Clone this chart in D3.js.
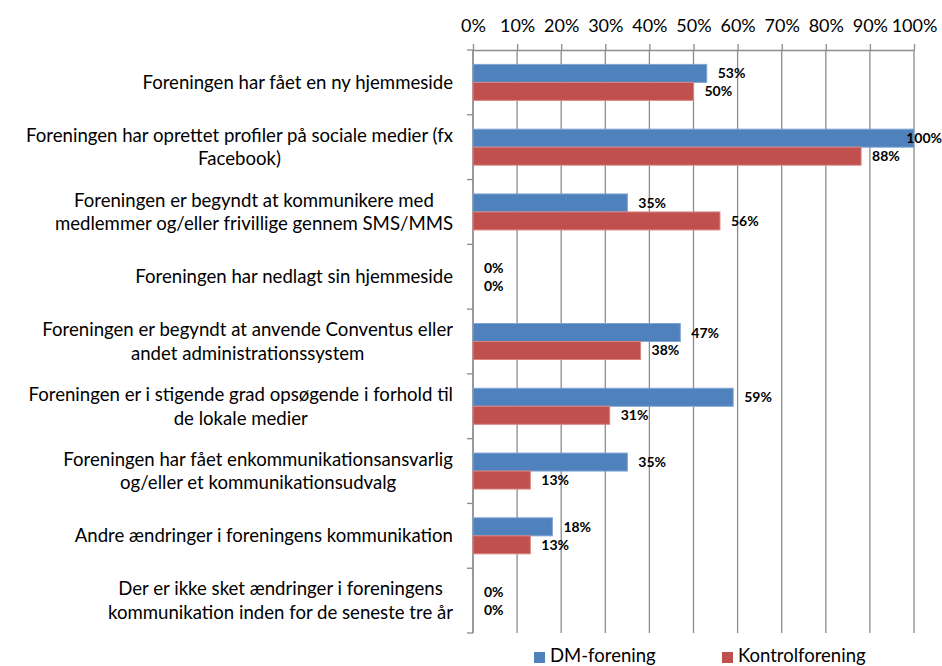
<!DOCTYPE html>
<html>
<head>
<meta charset="utf-8">
<script src="https://cdn.jsdelivr.net/npm/d3@7"></script>
<style>
  html, body { margin: 0; padding: 0; background: #fff; }
  svg { display: block; }
  text { font-family: Lato, "Open Sans", sans-serif; fill: #000; }
</style>
</head>
<body>
<svg id="chart" width="942" height="666"></svg>
<script>
// ---------- data ----------
const categories = [
  "Foreningen har fået en ny hjemmeside",
  "Foreningen har oprettet profiler på sociale medier (fx\nFacebook)",
  "Foreningen er begyndt at kommunikere med\nmedlemmer og/eller frivillige gennem SMS/MMS",
  "Foreningen har nedlagt sin hjemmeside",
  "Foreningen er begyndt at anvende Conventus eller\nandet administrationssystem",
  "Foreningen er i stigende grad opsøgende i forhold til\nde lokale medier",
  "Foreningen har fået enkommunikationsansvarlig\nog/eller et kommunikationsudvalg",
  "Andre ændringer i foreningens kommunikation",
  "Der er ikke sket ændringer i foreningens\nkommunikation inden for de seneste tre år"
];
const seriesNames = ["DM-forening", "Kontrolforening"];
const dmValues = [53, 100, 35, 0, 47, 59, 35, 18, 0];
const kontrolValues = [50, 88, 56, 0, 38, 31, 13, 13, 0];
const tickValues = [0, 10, 20, 30, 40, 50, 60, 70, 80, 90, 100];
const seriesColors = ["#4F81BD", "#C0504D"];
const seriesStroke = ["#7EA3D3", "#D98583"];

// ---------- layout ----------
const W = 942, H = 666;
const plot = { left: 473, right: 914, top: 50, bottom: 633 };
const svg = d3.select("#chart");

const x = d3.scaleLinear().domain([0, 100]).range([plot.left, plot.right]);
const y0 = d3.scaleBand().domain(d3.range(categories.length)).range([plot.top, plot.bottom]).padding(0);
const y1 = d3.scaleBand().domain(seriesNames).range([0, y0.bandwidth()]).paddingInner(0).paddingOuter(0.8);

// gridlines
svg.append("g")
  .selectAll("line")
  .data(tickValues)
  .join("line")
  .attr("x1", d => x(d)).attr("x2", d => x(d))
  .attr("y1", plot.top).attr("y2", plot.bottom)
  .attr("stroke", "#8C8C8C").attr("stroke-width", 1.3);

// top axis
const topAxis = svg.append("g")
  .attr("transform", `translate(0,${plot.top})`)
  .call(d3.axisTop(x).tickValues(tickValues).tickFormat(d => d + "%").tickSize(6).tickPadding(12).tickSizeOuter(0));
topAxis.select(".domain").attr("stroke", "#8C8C8C").attr("stroke-width", 1.3);
topAxis.selectAll(".tick line").attr("stroke", "#8C8C8C").attr("stroke-width", 1.3);
topAxis.selectAll(".tick text").attr("font-size", 18).attr("font-family", "Lato, sans-serif").attr("fill", "#000");

// left axis line with ticks at band boundaries
const boundaries = d3.range(categories.length + 1).map(i => plot.top + i * y0.step());
svg.append("line")
  .attr("x1", plot.left).attr("x2", plot.left)
  .attr("y1", plot.top).attr("y2", plot.bottom)
  .attr("stroke", "#8C8C8C").attr("stroke-width", 1.3);
svg.append("g").selectAll("line").data(boundaries).join("line")
  .attr("x1", plot.left - 6).attr("x2", plot.left)
  .attr("y1", d => d).attr("y2", d => d)
  .attr("stroke", "#8C8C8C").attr("stroke-width", 1.3);

// bars
const rows = categories.map((c, i) => ({ i, values: [dmValues[i], kontrolValues[i]] }));
const groups = svg.append("g").selectAll("g").data(rows).join("g")
  .attr("transform", d => `translate(0,${y0(d.i)})`);

groups.selectAll("rect")
  .data(d => d.values.map((v, s) => ({ v, s })))
  .join("rect")
  .attr("x", x(0))
  .attr("y", d => y1(seriesNames[d.s]))
  .attr("width", d => x(d.v) - x(0))
  .attr("height", y1.bandwidth())
  .attr("fill", d => seriesColors[d.s])
  .attr("stroke", d => d.v > 0 ? seriesStroke[d.s] : "none")
  .attr("stroke-width", 1);

// data labels
groups.selectAll("text.val")
  .data(d => d.values.map((v, s) => ({ v, s })))
  .join("text")
  .attr("class", "val")
  .attr("font-size", 14)
  .attr("font-weight", "bold")
  .attr("y", d => y1(seriesNames[d.s]) + y1.bandwidth() / 2 + 5)
  .text(d => d.v + "%")
  .each(function(d) {
    const w = this.getComputedTextLength();
    const px = Math.min(x(d.v) + 11, W - w);
    d3.select(this).attr("x", px);
  });

// category labels (multi-line, centered block, right-aligned to axis)
const labelRight = 453;
const lineH = 23.5;
svg.append("g").selectAll("text.cat").data(categories).join("text")
  .attr("class", "cat")
  .attr("font-size", 18.6)
  .attr("text-anchor", "middle")
  .each(function(c, i) {
    const lines = c.split("\n");
    const t = d3.select(this);
    const cy = y0(i) + y0.bandwidth() / 2;
    const firstBase = cy - (lines.length - 1) * lineH / 2 + 6.5;
    lines.forEach((ln, k) => {
      t.append("tspan").attr("y", firstBase + k * lineH).text(ln);
    });
    let maxW = 0;
    t.selectAll("tspan").each(function() { maxW = Math.max(maxW, this.getComputedTextLength()); });
    t.selectAll("tspan").attr("x", labelRight - maxW / 2);
  });

// legend
const legendX = [534, 722];
const legend = svg.append("g").selectAll("g").data(seriesNames).join("g")
  .attr("transform", (d, i) => `translate(${legendX[i]},652)`);
legend.append("rect").attr("width", 11).attr("height", 11).attr("fill", (d, i) => seriesColors[i]);
legend.append("text").attr("x", 16).attr("y", 10).attr("font-size", 18.5).text(d => d);
</script>
</body>
</html>
